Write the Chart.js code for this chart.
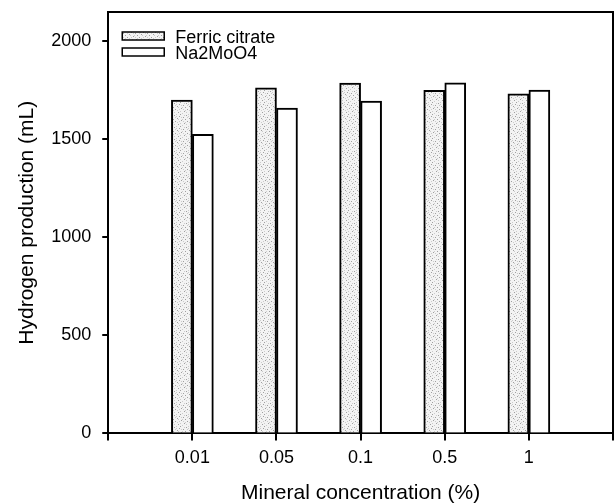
<!DOCTYPE html>
<html>
<head>
<meta charset="utf-8">
<script src="https://cdn.jsdelivr.net/npm/chart.js@4/dist/chart.umd.min.js"></script>
<style>
  html, body { margin: 0; padding: 0; background: #fff; }
  #wrap { width: 614px; height: 504px; position: relative; }
</style>
</head>
<body>
<div id="wrap"><canvas id="c" width="614" height="504"></canvas></div>
<script>
// ---- data ----
const categories = ['0.01', '0.05', '0.1', '0.5', '1'];
const seriesNames = ['Ferric citrate', 'Na2MoO4'];
const ferricCitrate = [1700, 1763, 1787, 1750, 1733];
const na2MoO4 = [1526, 1660, 1695, 1789, 1752];
const yTicks = [0, 500, 1000, 1500, 2000];
const xTitle = 'Mineral concentration (%)';
const yTitle = 'Hydrogen production (mL)';

// padded category axis (empty slots at both ends)
const labels = [''].concat(categories, ['']);
const pad = arr => [null].concat(arr, [null]);

// stipple pattern (fixed dot layout)
function makePattern() {
  const p = document.createElement('canvas');
  p.width = 12; p.height = 12;
  const g = p.getContext('2d');
  g.fillStyle = '#f3f3f3';
  g.fillRect(0, 0, 12, 12);
  g.fillStyle = '#a0a0a0';
  [[1,0],[7,1],[4,3],[10,4],[0,6],[6,7],[3,9],[9,10],[11,8],[5,11]].forEach(d => g.fillRect(d[0], d[1], 1, 1));
  g.fillStyle = '#cccccc';
  [[3,1],[9,2],[0,3],[6,4],[2,5],[8,6],[11,1],[4,7],[1,9],[7,9],[10,11],[2,11],[5,2],[8,8]].forEach(d => g.fillRect(d[0], d[1], 1, 1));
  return g.createPattern(p, 'repeat');
}
const ctx = document.getElementById('c').getContext('2d');
const stipple = makePattern();
const fills = [stipple, '#ffffff'];

const FONT = '"Liberation Sans", Arial, sans-serif';

const framePlugin = {
  id: 'frame',
  afterDraw(chart) {
    const {ctx, chartArea: a} = chart;
    ctx.save();
    ctx.strokeStyle = '#000';
    ctx.lineWidth = 2;
    ctx.beginPath();
    ctx.moveTo(a.left, a.top);
    ctx.lineTo(a.right, a.top);
    ctx.lineTo(a.right, a.bottom);
    ctx.stroke();
    // legend
    const ds = chart.data.datasets;
    ctx.font = '18px ' + FONT;
    ctx.textBaseline = 'middle';
    ds.forEach((d, i) => {
      const bx = a.left + 14, by = a.top + 20 + i * 16, bw = 42, bh = 8;
      ctx.fillStyle = d.backgroundColor;
      ctx.fillRect(bx, by, bw, bh);
      ctx.lineWidth = 1.5;
      ctx.strokeStyle = '#000';
      ctx.strokeRect(bx, by, bw, bh);
      ctx.fillStyle = '#000';
      ctx.fillText(d.label, bx + 53, by + bh / 2 + 2);
    });
    ctx.restore();
  }
};

new Chart(ctx, {
  type: 'bar',
  data: {
    labels: labels,
    datasets: [
      { label: seriesNames[0], data: pad(ferricCitrate), backgroundColor: fills[0], borderColor: '#000', borderWidth: 2, borderSkipped: 'bottom', barThickness: 21 },
      { label: seriesNames[1], data: pad(na2MoO4), backgroundColor: fills[1], borderColor: '#000', borderWidth: 2, borderSkipped: 'bottom', barThickness: 21 }
    ]
  },
  options: {
    responsive: false,
    animation: false,
    devicePixelRatio: 1,
    layout: { padding: { top: 12, right: 1, left: 15, bottom: 0 } },
    plugins: { legend: { display: false }, tooltip: { enabled: false } },
    scales: {
      x: {
        type: 'category',
        offset: false,
        afterFit(scale) { scale.paddingRight = 0; scale.paddingLeft = 0; },
        grid: { display: true, offset: false, drawOnChartArea: false, drawTicks: true, tickLength: 7, color: '#000', lineWidth: 2 },
        border: { display: true, color: '#000', width: 2 },
        ticks: { color: '#000', font: { family: FONT, size: 18 }, padding: 7, maxRotation: 0, autoSkip: false },
        title: { display: true, text: xTitle, color: '#000', font: { family: FONT, size: 21, lineHeight: 1.0 }, padding: { top: 7, bottom: 0 } }
      },
      y: {
        min: 0, max: 2150,
        afterBuildTicks(scale) { scale.ticks = yTicks.map(v => ({ value: v })); },
        grid: { display: true, drawOnChartArea: false, drawTicks: true, tickLength: 6, color: '#000', lineWidth: 2 },
        border: { display: true, color: '#000', width: 2 },
        ticks: { color: '#000', font: { family: FONT, size: 18, lineHeight: 0.1 }, padding: 11, callback: v => String(v) },
        title: { display: true, text: yTitle, color: '#000', font: { family: FONT, size: 21 }, padding: { top: 0, bottom: 0 } }
      }
    }
  },
  plugins: [framePlugin]
});
</script>
</body>
</html>
